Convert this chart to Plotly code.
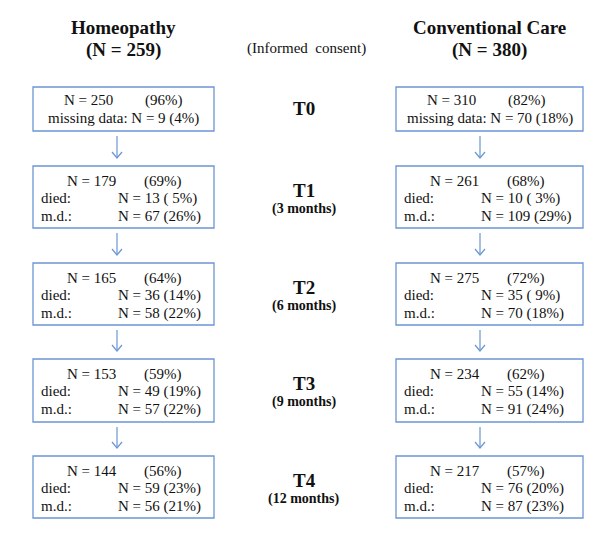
import plotly.graph_objects as go

# ---- data ----
groups = ["Homeopathy", "Conventional Care"]
group_n = [259, 380]
timepoints = ["T0", "T1", "T2", "T3", "T4"]
months = ["", "(3 months)", "(6 months)", "(9 months)", "(12 months)"]

homeo_n = [250, 179, 165, 153, 144]
homeo_pct = [96, 69, 64, 59, 56]
homeo_died = [None, 13, 36, 49, 59]
homeo_died_pct = [None, 5, 14, 19, 23]
homeo_md = [9, 67, 58, 57, 56]
homeo_md_pct = [4, 26, 22, 22, 21]

conv_n = [310, 261, 275, 234, 217]
conv_pct = [82, 68, 72, 62, 57]
conv_died = [None, 10, 35, 55, 76]
conv_died_pct = [None, 3, 9, 14, 20]
conv_md = [70, 109, 70, 91, 87]
conv_md_pct = [18, 29, 18, 24, 23]

# ---- layout geometry (page pixels) ----
W, H = 600, 538
OFF = 8  # default body margin of the html page
box_x = [(33, 214), (396, 583)]
arrow_x = [117, 480]
box_top = [87, 166, 263, 359, 456]
box_h = [44, 62, 62, 63, 62]
mid_x = 306

BLUE = "#6b95d3"
FONT = "Liberation Serif, Times New Roman, serif"
TXT = "#111111"

fig = go.Figure()
fig.add_trace(go.Scatter(x=[OFF, W], y=[OFF, H], mode="markers",
                         marker=dict(opacity=0), hoverinfo="skip", showlegend=False))

shapes = []
ann = []


def text(x, y, s, size=15, bold=False, anchor="left"):
    ann.append(dict(x=x, y=y, xref="x", yref="y", text=f"<b>{s}</b>" if bold else s,
                    showarrow=False, xanchor=anchor, yanchor="middle", borderpad=0,
                    font=dict(family=FONT, size=size, color=TXT)))


# headers
for g, (x0, x1) in enumerate(box_x):
    cx = (x0 + x1) / 2
    text(cx, 27, groups[g], size=19, bold=True, anchor="center")
    text(cx, 50, f"(N = {group_n[g]})", size=19, bold=True, anchor="center")
text(mid_x, 48, "(Informed&nbsp; consent)", size=15, anchor="center")

series = [
    (homeo_n, homeo_pct, homeo_died, homeo_died_pct, homeo_md, homeo_md_pct),
    (conv_n, conv_pct, conv_died, conv_died_pct, conv_md, conv_md_pct),
]

for g, (x0, x1) in enumerate(box_x):
    n, np_, d, dp, m, mp = series[g]
    cx = (x0 + x1) / 2
    for i in range(len(timepoints)):
        top = box_top[i]
        bot = top + box_h[i]
        shapes.append(dict(type="rect", xref="x", yref="y", x0=x0, x1=x1, y0=top, y1=bot,
                           line=dict(color=BLUE, width=1.3), fillcolor="rgba(0,0,0,0)"))
        if i == 0:
            text(x0 + 30, top + 13, f"N = {n[i]}")
            text(x0 + 111, top + 13, f"({np_[i]}%)")
            text(cx, top + 31, f"missing data: N = {m[i]} ({mp[i]}%)", anchor="center")
        else:
            text(x0 + 33, top + 15, f"N = {n[i]}")
            text(x0 + 110, top + 15, f"({np_[i]}%)")
            text(x0 + 7, top + 32, "died:")
            dps = f"({dp[i]:>2}%)".replace("( ", "(&nbsp;")
            text(x0 + 84, top + 32, f"N = {d[i]} {dps}")
            text(x0 + 7, top + 50, "m.d.:")
            text(x0 + 84, top + 50, f"N = {m[i]} ({mp[i]}%)")
        # arrows
        if i < len(timepoints) - 1:
            ax = arrow_x[g]
            ya = bot + 5
            yb = box_top[i + 1] - 8
            shapes.append(dict(type="line", xref="x", yref="y", x0=ax, x1=ax, y0=ya, y1=yb,
                               line=dict(color=BLUE, width=1.2)))
            shapes.append(dict(type="path", xref="x", yref="y",
                               path=f"M {ax-5} {yb-6} L {ax} {yb} L {ax+5} {yb-6}",
                               line=dict(color=BLUE, width=1.2)))

# time labels
for i, t in enumerate(timepoints):
    top = box_top[i]
    if i == 0:
        text(mid_x - 2, 108, t, size=19, bold=True, anchor="center")
    else:
        text(mid_x - 2, top + 24, t, size=19, bold=True, anchor="center")
        text(mid_x - 2, top + 43, months[i], size=14, bold=True, anchor="center")

fig.update_layout(
    width=W - OFF, height=H - OFF, margin=dict(l=0, r=0, t=0, b=0),
    paper_bgcolor="white", plot_bgcolor="white",
    xaxis=dict(range=[OFF, W], visible=False, fixedrange=True),
    yaxis=dict(range=[H, OFF], visible=False, fixedrange=True),
    shapes=shapes, annotations=ann, showlegend=False,
)

fig.write_html("out.html")
